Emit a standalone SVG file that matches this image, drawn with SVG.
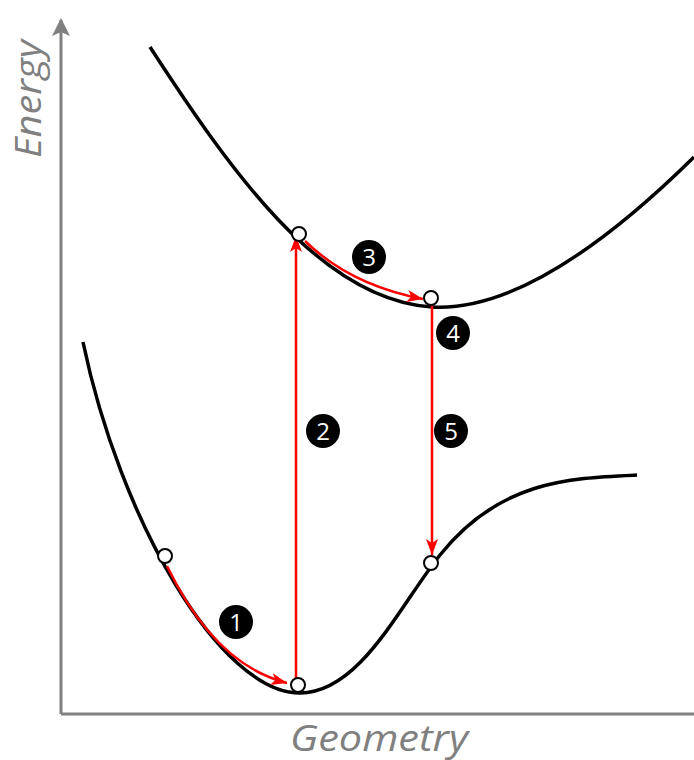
<svg xmlns="http://www.w3.org/2000/svg" width="694" height="760" viewBox="0 0 694 760">
<style>
.axis{stroke:#808080;stroke-width:3;fill:none}
.curve{stroke:#000;stroke-width:3.5;fill:none}
.red{stroke:#ff0000;stroke-width:2.5;fill:none}
.pt{fill:#fff;stroke:#000;stroke-width:2}
.badge circle{fill:#000}
.badge text{fill:#fff;font-family:"Open Sans","DejaVu Sans",sans-serif;font-size:24px;text-anchor:middle}
.lbl{fill:#808080;font-family:"Open Sans","DejaVu Sans",sans-serif;font-style:italic;font-size:36px}
</style>
<defs>
<marker id="ah" markerWidth="18" markerHeight="14" refX="16" refY="7" orient="auto" markerUnits="userSpaceOnUse">
<path d="M0,1 L16,7 L0,13 L4,7 Z" fill="#ff0000"/>
</marker>
<marker id="ag" markerWidth="18" markerHeight="24" refX="16" refY="12" orient="auto" markerUnits="userSpaceOnUse">
<path d="M0,3 L18,12 L0,21 L4,12 Z" fill="#808080"/>
</marker>
</defs>
<g id="axes">
<path class="axis" d="M61,714 L61,20" marker-end="url(#ag)"/>
<path class="axis" d="M61,714 L694,714"/>
<text class="lbl" transform="translate(41,99) rotate(-90)" text-anchor="middle" textLength="118" lengthAdjust="spacingAndGlyphs">Energy</text>
<text class="lbl" x="379" y="751" text-anchor="middle" textLength="178" lengthAdjust="spacingAndGlyphs">Geometry</text>
</g>
<g id="curves">
<path id="excited" class="curve" d="M150,47 C230,170 320,300 432,307 C520,312 620,230 694,157"/>
<path id="ground" class="curve" d="M83,342 C120,520 220,693 300,693 C360,693 400,605 440,555 C500,480 570,478 637,475"/>
</g>
<g id="connectors">
<path class="red" d="M167,566 Q215,665 287,683" marker-end="url(#ah)"/>
<path class="red" d="M296,685 L296,236" marker-end="url(#ah)"/>
<path class="red" d="M305,241 Q350,285 423,299" marker-end="url(#ah)"/>
<path class="red" d="M432,306 L432,555" marker-end="url(#ah)"/>
</g>
<g id="points">
<circle class="pt" cx="165" cy="556" r="7"/>
<circle class="pt" cx="298" cy="685" r="7"/>
<circle class="pt" cx="299" cy="234" r="7"/>
<circle class="pt" cx="431" cy="298" r="7"/>
<circle class="pt" cx="431" cy="563" r="7"/>
</g>
<g id="b1" class="badge"><circle cx="236" cy="622" r="17"/><text x="236" y="631">1</text></g>
<g id="b2" class="badge"><circle cx="323" cy="431" r="17"/><text x="323" y="440">2</text></g>
<g id="b3" class="badge"><circle cx="369" cy="257" r="17"/><text x="369" y="266">3</text></g>
<g id="b4" class="badge"><circle cx="453" cy="333" r="17"/><text x="453" y="342">4</text></g>
<g id="b5" class="badge"><circle cx="451" cy="431" r="17"/><text x="451" y="440">5</text></g>
</svg>
